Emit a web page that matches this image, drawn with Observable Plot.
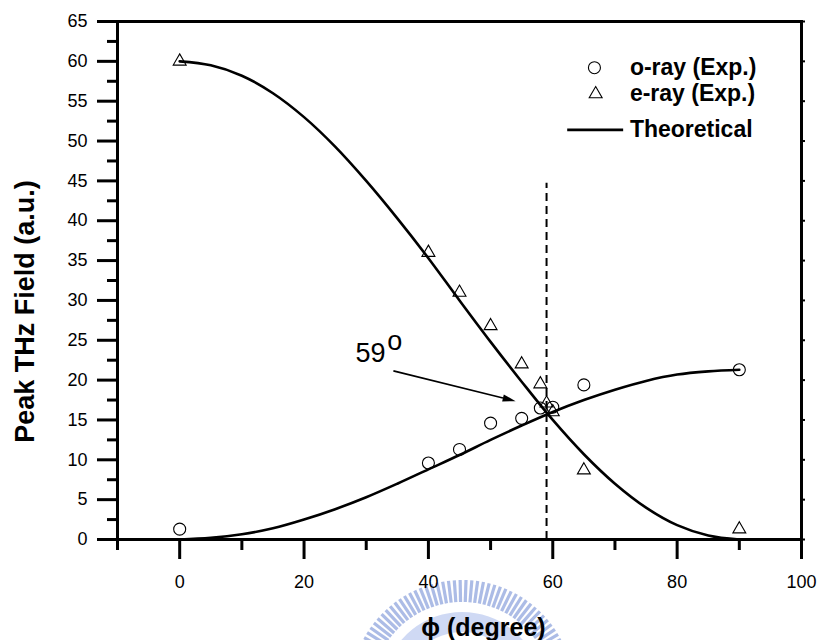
<!DOCTYPE html>
<html>
<head>
<meta charset="utf-8">
<script src="https://cdn.jsdelivr.net/npm/d3@7"></script>
<script src="https://cdn.jsdelivr.net/npm/@observablehq/plot@0.6"></script>
<style>
  html, body { margin: 0; padding: 0; background: #fff; }
  #chart svg { display: block; }
</style>
</head>
<body>
<div id="chart"></div>
<script>
// ---- data ----
const oRayAngle = [0, 40, 45, 50, 55, 58, 60, 65, 90];
const oRayField = [1.3, 9.6, 11.3, 14.6, 15.2, 16.5, 16.6, 19.4, 21.3];

const eRayAngle = [0, 40, 45, 50, 55, 58, 59, 60, 65, 90];
const eRayField = [60.0, 36.0, 31.0, 26.8, 22.0, 19.5, 17.1, 16.0, 8.7, 1.3];

const theoryAngle = [0, 5, 10, 15, 20, 25, 30, 35, 40, 45, 50, 55, 60, 65, 70, 75, 80, 85, 90];
const theoryE = [60, 59.5, 58.2, 56, 53, 49.3, 45, 40.3, 35.3, 30, 24.8, 19.8, 15, 10.7, 7, 4, 1.8, 0.5, 0];
const theoryO = [0, 0.2, 0.65, 1.4, 2.5, 3.8, 5.3, 7, 8.8, 10.6, 12.5, 14.3, 16, 17.5, 18.8, 19.9, 20.7, 21.1, 21.3];

const xMajorTicks = [0, 20, 40, 60, 80, 100];
const xMinorTicks = [-10, 10, 30, 50, 70, 90];
const yMajorTicks = [0, 5, 10, 15, 20, 25, 30, 35, 40, 45, 50, 55, 60, 65];
const yMinorTicks = [2.5, 7.5, 12.5, 17.5, 22.5, 27.5, 32.5, 37.5, 42.5, 47.5, 52.5, 57.5, 62.5];

const crossingAngle = 59;
const crossingTop = 44.7;
const arrowFrom = {x: 34.45, y: 21.1};
const arrowTo = {x: 54.1, y: 17.3};
const annotLabel = {x: 30.7, y: 23.3, text: "59"};
const annotSup = {x: 34.6, y: 24.9, text: "o"};

const legendItems = [
  {label: "o-ray (Exp.)", kind: "circle", x: 66.7, y: 59.2},
  {label: "e-ray (Exp.)", kind: "triangle", x: 66.9, y: 55.9},
  {label: "Theoretical", kind: "line", x: 66.9, y: 51.4}
];
const legendTextX = 72.4;
const legendLineX = [62.4, 71.4];

const xTitle = "ϕ (degree)";
const yTitle = "Peak THz Field (a.u.)";

// ---- tables ----
const oRay = oRayAngle.map((a, i) => ({a, v: oRayField[i]}));
const eRay = eRayAngle.map((a, i) => ({a, v: eRayField[i]}));
const thE = theoryAngle.map((a, i) => ({a, v: theoryE[i]}));
const thO = theoryAngle.map((a, i) => ({a, v: theoryO[i]}));

const FONT = "'Liberation Sans', Arial, Helvetica, sans-serif";

// filled arrow head drawn through scales
function arrowMark(index, scales) {
  const x1 = scales.x(arrowFrom.x), y1 = scales.y(arrowFrom.y);
  const x2 = scales.x(arrowTo.x), y2 = scales.y(arrowTo.y);
  const dx = x2 - x1, dy = y2 - y1, L = Math.hypot(dx, dy);
  const ux = dx / L, uy = dy / L;
  const hl = 13, hw = 3.6;
  const bx = x2 - ux * hl, by = y2 - uy * hl;
  const g = d3.create("svg:g");
  g.append("line").attr("x1", x1).attr("y1", y1).attr("x2", bx).attr("y2", by)
    .attr("stroke", "black").attr("stroke-width", 1.6);
  g.append("path")
    .attr("d", `M${x2},${y2}L${bx - uy * hw},${by + ux * hw}L${bx + uy * hw},${by - ux * hw}Z`)
    .attr("fill", "black");
  return g.node();
}

// faint decorative watermark seal behind the x title
function watermark(index, scales, values, dims) {
  const cx = scales.x(45.5), cy = dims.height + 52;
  const g = d3.create("svg:g").attr("opacity", 0.7);
  for (let a = 185; a <= 355; a += 3) {
    const t = a * Math.PI / 180;
    g.append("line")
      .attr("x1", cx + 90 * Math.cos(t)).attr("y1", cy + 90 * Math.sin(t))
      .attr("x2", cx + 112 * Math.cos(t)).attr("y2", cy + 112 * Math.sin(t))
      .attr("stroke", "#8aa0dc").attr("stroke-width", 3.2);
  }
  const arc = d3.arc().innerRadius(60).outerRadius(80).startAngle(-1.35).endAngle(1.35);
  g.append("path").attr("d", arc()).attr("transform", `translate(${cx},${cy})`)
    .attr("fill", "#bccaf0");
  return g.node();
}

const plot = Plot.plot({
  width: 822,
  height: 640,
  marginLeft: 117,
  marginRight: 21,
  marginTop: 21,
  marginBottom: 101,
  style: {fontFamily: FONT, fontSize: "18px", background: "white", color: "black", overflow: "visible"},
  x: {domain: [-10, 100]},
  y: {domain: [0, 65]},
  marks: [
    watermark,
    // theoretical curves
    Plot.line(thE, {x: "a", y: "v", curve: "catmull-rom", stroke: "black", strokeWidth: 2.6}),
    Plot.line(thO, {x: "a", y: "v", curve: "catmull-rom", stroke: "black", strokeWidth: 2.6}),
    // dashed crossing line
    Plot.ruleX([crossingAngle], {y1: 0, y2: crossingTop, stroke: "black", strokeWidth: 2, strokeDasharray: "8,5"}),
    // experimental points
    Plot.dot(oRay, {x: "a", y: "v", r: 6, stroke: "black", strokeWidth: 1.1, fill: "none"}),
    Plot.dot(eRay, {x: "a", y: "v", r: 4.8, symbol: "triangle", stroke: "black", strokeWidth: 1.1, fill: "none"}),
    // annotation
    arrowMark,
    Plot.text([annotLabel], {x: "x", y: "y", text: "text", fontSize: 27, lineAnchor: "middle", fill: "black"}),
    Plot.text([annotSup], {x: "x", y: "y", text: "text", fontSize: 27, lineAnchor: "middle", fill: "black"}),
    // legend
    Plot.dot(legendItems.filter(d => d.kind === "circle"), {x: "x", y: "y", r: 6, stroke: "black", strokeWidth: 1.1, fill: "none"}),
    Plot.dot(legendItems.filter(d => d.kind === "triangle"), {x: "x", y: "y", r: 4.8, symbol: "triangle", stroke: "black", strokeWidth: 1.1, fill: "none"}),
    Plot.ruleY(legendItems.filter(d => d.kind === "line"), {y: "y", x1: legendLineX[0], x2: legendLineX[1], stroke: "black", strokeWidth: 2.6}),
    Plot.text(legendItems, {x: legendTextX, y: "y", text: "label", textAnchor: "start", lineAnchor: "middle", fontSize: 23, fontWeight: "bold", fill: "black"}),
    // axes
    Plot.axisX({ticks: xMajorTicks, tickSize: 20, tickPadding: 16, strokeWidth: 3, fontSize: 18, label: null, tickFormat: d => String(d)}),
    Plot.axisX({ticks: xMinorTicks, tickSize: 11, strokeWidth: 3, text: null, label: null}),
    Plot.axisY({ticks: yMajorTicks, tickSize: 20, tickPadding: 10, strokeWidth: 3, fontSize: 18, label: null, tickFormat: d => String(d)}),
    Plot.axisY({ticks: yMinorTicks, tickSize: 10, strokeWidth: 3, text: null, label: null}),
    Plot.axisY({anchor: "right", ticks: yMajorTicks, tickSize: 3, strokeWidth: 2, text: null, label: null}),
    Plot.frame({stroke: "black", strokeWidth: 3}),
    // axis titles
    Plot.text([xTitle], {frameAnchor: "bottom", dx: 24, dy: 88, fontSize: 25, fontWeight: "bold", fill: "black", textAnchor: "middle", lineAnchor: "middle"}),
    Plot.text([yTitle], {frameAnchor: "left", rotate: -90, dx: -92, dy: 31, fontSize: 27, fontWeight: "bold", fill: "black", textAnchor: "middle", lineAnchor: "middle"})
  ]
});

document.getElementById("chart").appendChild(plot);
</script>
</body>
</html>
